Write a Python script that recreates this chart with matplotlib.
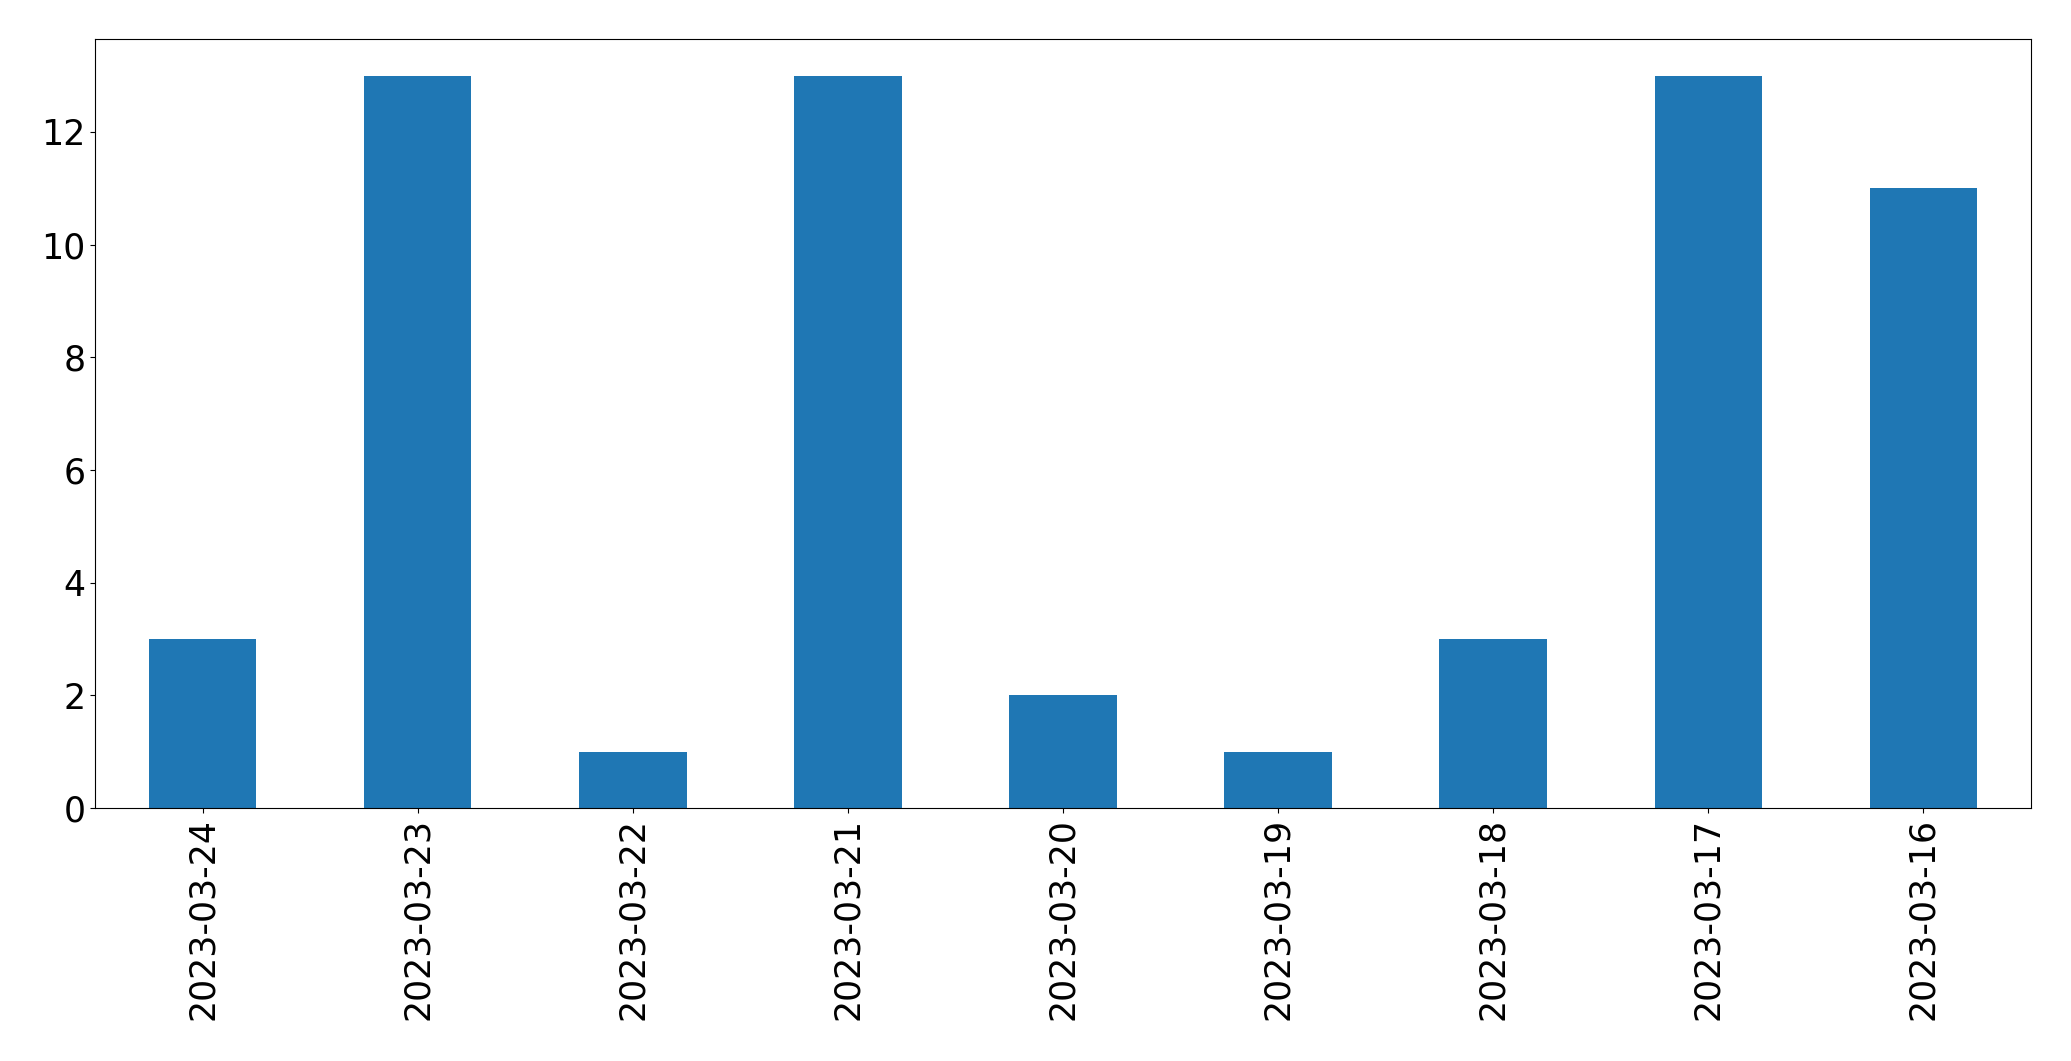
import matplotlib
matplotlib.use("Agg")
import matplotlib.pyplot as plt
import numpy as np

dates = ['2023-03-24', '2023-03-23', '2023-03-22', '2023-03-21', '2023-03-20',
         '2023-03-19', '2023-03-18', '2023-03-17', '2023-03-16']
counts = [3, 13, 1, 13, 2, 1, 3, 13, 11]

fig = plt.figure(figsize=(20.71, 10.61), dpi=100)
ax = fig.add_axes([95 / 2071, 1 - 808 / 1061, (2031 - 95) / 2071, (808 - 39) / 1061])

x = np.arange(len(dates))
ax.bar(x, counts, width=0.5, color='#1f77b4')
ax.set_xticks(x)
ax.set_xticklabels(dates, rotation=90)
ax.set_xlim(-0.5, len(dates) - 0.5)
ax.tick_params(axis='both', labelsize=25)

plt.savefig('out.png', dpi=100)
plt.close()
